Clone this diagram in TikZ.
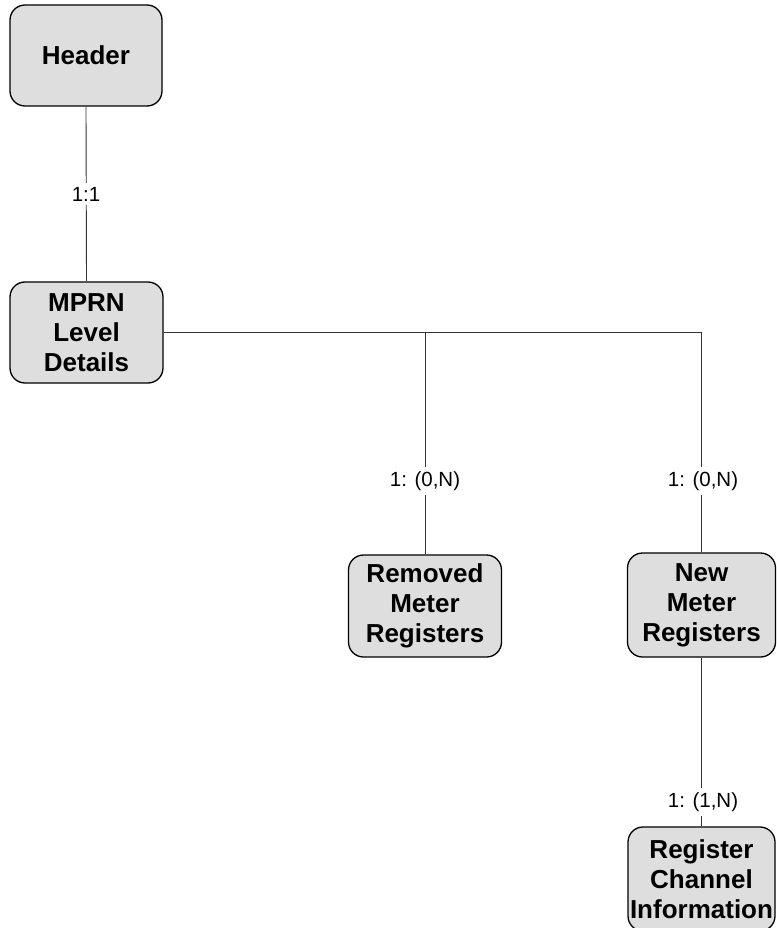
\documentclass[tikz,border=0pt]{standalone}
\usepackage{fontspec}
\setmainfont{Liberation Sans}
\begin{document}
\begin{tikzpicture}[x=1pt,y=-1pt,
  entity/.style={draw=black, line width=1.3pt, fill=black!13, rounded corners=15pt,
    align=center, inner sep=0pt,
    font=\fontsize{26}{30}\selectfont\bfseries},
  link/.style={draw=black!80, line width=0.9pt},
  card/.style={fill=white, inner sep=4pt, font=\fontsize{20.5}{23}\selectfont}]
  \useasboundingbox (0,0) rectangle (776,928);

  % entities
  \node[entity, minimum width=152pt, minimum height=101pt] (hdr) at (86,55.5) {Header};
  \node[entity, minimum width=153pt, minimum height=101pt] (mprn) at (86.5,332.5) {MPRN\\Level\\Details};
  \node[entity, minimum width=153pt, minimum height=102pt] (rem) at (425,606) {Removed\\Meter\\Registers};
  \node[entity, minimum width=148pt, minimum height=104pt] (new) at (701.5,605) {New\\Meter\\Registers};
  \node[entity, minimum width=147pt, minimum height=104pt] (rci) at (701.5,879) {Register\\Channel\\Information};

  % branching points on the bus line
  \coordinate (jrem) at (rem.north |- mprn.east);
  \coordinate (jnew) at (new.north |- mprn.east);

  % connectors
  \draw[link] (hdr.south) -- (mprn.north);
  \draw[link] (mprn.east) -- (jnew) -- (new.north);
  \draw[link] (jrem) -- (rem.north);
  \draw[link] (new.south) -- (rci.north);

  % cardinalities
  \node[card] (c1) at (86,194) {1:1};
  \node[card] (c2) at (425,481) {1: (0,N)};
  \node[card] (c3) at (703,481) {1: (0,N)};
  \node[card] (c4) at (703,802) {1: (1,N)};
\end{tikzpicture}
\end{document}
